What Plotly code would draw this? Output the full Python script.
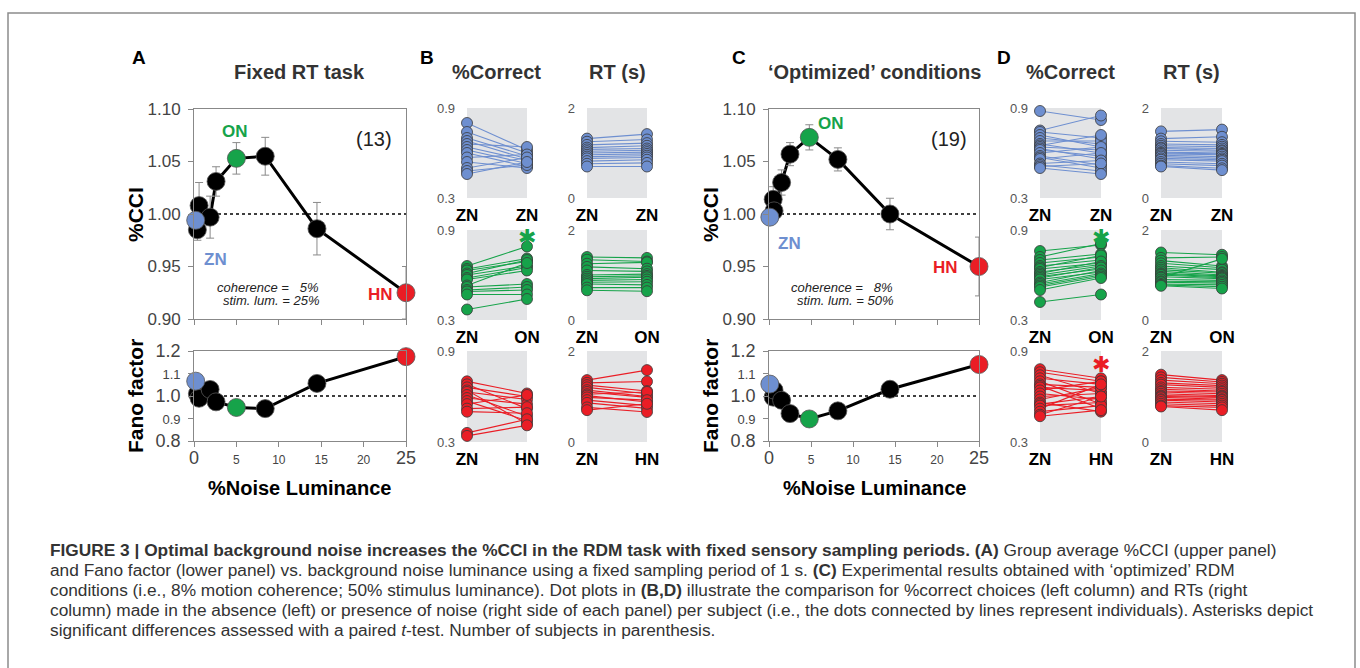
import plotly.graph_objects as go

W, H = 1360, 668
FONT = "Liberation Sans, Arial, Helvetica, sans-serif"
BLUE = "#6e8fd0"
GREEN = "#16a34a"
RED = "#ea1d25"
GRAYBG = "#e3e4e6"
TXT = "#333333"

# ---------------- data ----------------
A_noise = [0.2, 0.4, 0.6, 1.9, 2.6, 5.0, 8.4, 14.5, 25.0]
A_cci = [0.994, 0.985, 1.008, 0.997, 1.031, 1.053, 1.055, 0.986, 0.925]
A_cci_err = [0.0, 0.010, 0.022, 0.020, 0.014, 0.015, 0.018, 0.025, 0.025]
A_fano = [1.066, 1.010, 0.990, 1.029, 0.974, 0.949, 0.944, 1.056, 1.175]

C_noise = [0.1, 0.5, 0.6, 1.5, 2.5, 4.8, 8.2, 14.4, 25.0]
C_cci = [0.997, 1.014, 1.003, 1.030, 1.057, 1.073, 1.052, 1.000, 0.950]
C_cci_err = [0.0, 0.012, 0.008, 0.012, 0.011, 0.012, 0.011, 0.015, 0.028]
C_fano = [1.053, 0.995, 1.026, 0.981, 0.922, 0.898, 0.934, 1.030, 1.140]

cond_idx = {"ZN": 0, "ON": 5, "HN": 8}

x_ticks = [0, 5, 10, 15, 20, 25]
x_ticktext = ["0", "5", "10", "15", "20", "25"]
cci_ticks = [0.90, 0.95, 1.00, 1.05, 1.10]
cci_ticktext = ["0.90", "0.95", "1.00", "1.05", "1.10"]
fano_ticks = [0.8, 0.9, 1.0, 1.1, 1.2]
fano_ticktext = ["0.8", "0.9", "1.0", "1.1", "1.2"]

# per-subject dot plots: (left condition, right condition)
B_corr_ZN_ZN = ([0.80, 0.74, 0.70, 0.68, 0.66, 0.64, 0.62, 0.60, 0.57, 0.54, 0.50, 0.48, 0.46],
                [0.62, 0.60, 0.58, 0.56, 0.64, 0.55, 0.53, 0.51, 0.59, 0.50, 0.57, 0.52, 0.54])
B_rt_ZN_ZN = ([1.32, 1.25, 1.18, 1.12, 1.08, 1.04, 1.00, 0.96, 0.92, 0.88, 0.82, 0.76, 0.70],
              [1.42, 1.30, 1.22, 1.16, 1.10, 1.06, 1.02, 0.98, 0.94, 0.90, 0.85, 0.78, 0.70])
B_corr_ZN_ON = ([0.66, 0.64, 0.63, 0.61, 0.60, 0.58, 0.57, 0.53, 0.52, 0.50, 0.49, 0.47, 0.37],
                [0.79, 0.71, 0.69, 0.70, 0.66, 0.65, 0.63, 0.68, 0.54, 0.52, 0.50, 0.47, 0.44])
B_rt_ZN_ON = ([1.40, 1.34, 1.25, 1.18, 1.10, 1.00, 0.96, 0.92, 0.88, 0.84, 0.80, 0.72, 0.66],
              [1.38, 1.30, 1.28, 1.14, 1.08, 1.02, 0.98, 0.95, 0.90, 0.85, 0.78, 0.72, 0.64])
B_corr_ZN_HN = ([0.70, 0.68, 0.66, 0.64, 0.63, 0.61, 0.59, 0.57, 0.55, 0.52, 0.50, 0.36, 0.34],
                [0.62, 0.52, 0.60, 0.42, 0.58, 0.47, 0.55, 0.44, 0.61, 0.53, 0.49, 0.45, 0.41])
B_rt_ZN_HN = ([1.36, 1.30, 1.25, 1.20, 1.14, 1.10, 1.05, 1.02, 0.98, 0.92, 0.86, 0.76, 0.70],
              [1.58, 1.33, 1.12, 1.06, 1.00, 0.98, 1.10, 0.88, 0.92, 0.80, 0.74, 0.66, 0.84])

D_corr_ZN_ZN = ([0.88, 0.75, 0.74, 0.72, 0.70, 0.68, 0.66, 0.65, 0.64, 0.63, 0.62, 0.60, 0.58, 0.57, 0.56, 0.53, 0.52, 0.51, 0.50],
                [0.82, 0.85, 0.70, 0.64, 0.66, 0.68, 0.60, 0.72, 0.62, 0.56, 0.58, 0.64, 0.52, 0.50, 0.60, 0.55, 0.48, 0.53, 0.46])
D_rt_ZN_ZN = ([1.48, 1.32, 1.26, 1.20, 1.16, 1.12, 1.10, 1.06, 1.02, 1.00, 0.98, 0.95, 0.92, 0.88, 0.85, 0.80, 0.76, 0.72, 0.70],
              [1.52, 1.36, 1.24, 1.18, 1.14, 1.10, 1.06, 1.04, 1.00, 0.98, 0.96, 0.92, 0.88, 0.85, 0.82, 0.76, 0.72, 0.66, 0.62])
D_corr_ZN_ON = ([0.76, 0.72, 0.70, 0.68, 0.66, 0.65, 0.64, 0.62, 0.61, 0.60, 0.59, 0.58, 0.57, 0.55, 0.54, 0.53, 0.52, 0.50, 0.42],
                [0.80, 0.81, 0.74, 0.72, 0.70, 0.73, 0.68, 0.67, 0.69, 0.66, 0.64, 0.65, 0.62, 0.63, 0.61, 0.60, 0.59, 0.58, 0.47])
D_rt_ZN_ON = ([1.50, 1.38, 1.32, 1.26, 1.20, 1.16, 1.12, 1.08, 1.04, 1.02, 1.00, 0.96, 0.94, 0.90, 0.86, 0.84, 0.80, 0.78, 0.76],
              [1.45, 1.40, 1.20, 1.16, 1.12, 1.06, 1.04, 1.00, 0.98, 0.96, 0.94, 0.92, 1.36, 0.88, 0.85, 0.82, 0.78, 0.74, 0.70])
D_corr_ZN_HN = ([0.78, 0.76, 0.74, 0.72, 0.70, 0.68, 0.67, 0.66, 0.64, 0.62, 0.60, 0.58, 0.56, 0.55, 0.54, 0.52, 0.50, 0.48, 0.47],
                [0.72, 0.70, 0.62, 0.68, 0.55, 0.66, 0.52, 0.64, 0.70, 0.58, 0.62, 0.66, 0.50, 0.60, 0.56, 0.68, 0.54, 0.60, 0.51])
D_rt_ZN_HN = ([1.48, 1.42, 1.36, 1.30, 1.26, 1.20, 1.16, 1.12, 1.10, 1.06, 1.02, 1.00, 0.98, 0.94, 0.92, 0.88, 0.84, 0.80, 0.78],
              [1.36, 1.32, 1.28, 1.24, 1.20, 1.16, 1.12, 1.10, 1.06, 1.02, 1.00, 0.98, 0.94, 0.92, 0.88, 0.84, 0.80, 0.76, 0.70])

corr_ticks, corr_ticktext = [0.3, 0.9], ["0.3", "0.9"]
rt_ticks, rt_ticktext = [0, 2], ["0", "2"]

caption_lines = [
    "<b>FIGURE 3 | Optimal background noise increases the %CCI in the RDM task with fixed sensory sampling periods. (A)</b> Group average %CCI (upper panel)",
    "and Fano factor (lower panel) vs. background noise luminance using a fixed sampling period of 1 s. <b>(C)</b> Experimental results obtained with ‘optimized’ RDM",
    "conditions (i.e., 8% motion coherence; 50% stimulus luminance). Dot plots in <b>(B,D)</b> illustrate the comparison for %correct choices (left column) and RTs (right",
    "column) made in the absence (left) or presence of noise (right side of each panel) per subject (i.e., the dots connected by lines represent individuals). Asterisks depict",
    "significant differences assessed with a paired <i>t</i>-test. Number of subjects in parenthesis.",
]


# ---------------- helpers ----------------
def px(x):
    return x / W


def py(y):
    return 1 - y / H


def sid(n):
    return "" if n == 1 else str(n)


fig = go.Figure()
layout = dict(width=W, height=H, margin=dict(l=0, r=0, t=0, b=0, pad=0, autoexpand=False),
              paper_bgcolor="white", plot_bgcolor="white",
              font=dict(family=FONT, color=TXT), showlegend=False)
annotations = []
shapes = []


def mixed(labels, big, small, big_set):
    return [f"<span style='font-size:{big if l in big_set else small}px'>{l}</span>" for l in labels]


def main_axes(n, x0, x1, y0, y1, yr, yt, ytt, show_x, fano=False):
    s = sid(n)
    xa = dict(domain=[px(x0), px(x1)], range=[0, 25], anchor=f"y{s}",
              tickvals=x_ticks, ticks="outside", ticklen=5, tickcolor="#888",
              linecolor="#888", linewidth=1, mirror=True, showgrid=False, zeroline=False,
              showticklabels=show_x, ticklabelstandoff=3, automargin=False,
              tickfont=dict(color="#444", size=12))
    if show_x:
        xa["ticktext"] = mixed(x_ticktext, 18, 12, {"0", "25"})
    ytext = mixed(ytt, 18, 13, {"0.8", "1.0", "1.2"}) if fano else ytt
    ya = dict(domain=[py(y1), py(y0)], range=yr, anchor=f"x{s}",
              tickvals=yt, ticktext=ytext, ticks="outside", ticklen=5, tickcolor="#888",
              linecolor="#888", linewidth=1, mirror=True, showgrid=False, zeroline=False,
              ticklabelstandoff=4, automargin=False, tickfont=dict(color="#444", size=17))
    layout[f"xaxis{s}"] = xa
    layout[f"yaxis{s}"] = ya
    shapes.append(dict(type="line", xref=f"x{s} domain", yref=f"y{s}", x0=0, x1=1, y0=1.0, y1=1.0,
                       line=dict(color="black", width=1.5, dash="dot"), layer="below"))


def main_traces(n, xs, ys, err=None):
    xr, yr = f"x{sid(n)}", f"y{sid(n)}"
    fig.add_trace(go.Scatter(x=xs, y=ys, mode="lines", line=dict(color="black", width=3),
                             xaxis=xr, yaxis=yr, hoverinfo="skip"))
    if err is not None:
        fig.add_trace(go.Scatter(x=xs, y=ys, mode="markers", marker=dict(size=1, opacity=0),
                                 error_y=dict(type="data", array=err, color="#8a8a8a", thickness=1, width=4),
                                 xaxis=xr, yaxis=yr, cliponaxis=False, hoverinfo="skip"))
    special = set(cond_idx.values())
    bx = [x for i, x in enumerate(xs) if i not in special]
    by = [y for i, y in enumerate(ys) if i not in special]
    fig.add_trace(go.Scatter(x=bx, y=by, mode="markers",
                             marker=dict(size=18, color="black", line=dict(color="#555", width=0.8)),
                             xaxis=xr, yaxis=yr, cliponaxis=False, hoverinfo="skip"))
    for name, col in (("ZN", BLUE), ("ON", GREEN), ("HN", RED)):
        i = cond_idx[name]
        fig.add_trace(go.Scatter(x=[xs[i]], y=[ys[i]], mode="markers",
                                 marker=dict(size=18, color=col, line=dict(color="#555", width=0.8)),
                                 xaxis=xr, yaxis=yr, cliponaxis=False, hoverinfo="skip"))


def dot_panel(n, x0, x1, y0, y1, data, yr, yt, ytt, cats, color):
    s = sid(n)
    xr, yr_ = f"x{s}", f"y{s}"
    layout[f"xaxis{s}"] = dict(domain=[px(x0), px(x1)], range=[0, 1], anchor=f"y{s}",
                               tickvals=[0, 1], ticktext=[f"<b>{c}</b>" for c in cats],
                               ticks="", showline=False, showgrid=False, zeroline=False,
                               ticklabelstandoff=5, automargin=False,
                               tickfont=dict(size=17, color="black"))
    layout[f"yaxis{s}"] = dict(domain=[py(y1), py(y0)], range=yr, anchor=f"x{s}",
                               tickvals=yt, ticktext=ytt, ticks="", showline=False,
                               showgrid=False, zeroline=False, ticklabelstandoff=11, automargin=False,
                               tickfont=dict(size=13, color="#555"))
    shapes.append(dict(type="rect", xref=f"x{s} domain", yref=f"y{s} domain", x0=0, x1=1, y0=0, y1=1,
                       fillcolor=GRAYBG, line=dict(width=0), layer="below"))
    left, right = data
    lx, ly = [], []
    for a, b in zip(left, right):
        lx += [0, 1, None]
        ly += [a, b, None]
    fig.add_trace(go.Scatter(x=lx, y=ly, mode="lines", line=dict(color=color, width=1.1),
                             xaxis=xr, yaxis=yr_, cliponaxis=False, hoverinfo="skip"))
    fig.add_trace(go.Scatter(x=[0] * len(left) + [1] * len(right), y=list(left) + list(right),
                             mode="markers",
                             marker=dict(size=11, color=color, line=dict(color="#3a3a3a", width=0.8)),
                             xaxis=xr, yaxis=yr_, cliponaxis=False, hoverinfo="skip"))


def text(x, y, s, size, color=TXT, bold=False, italic=False, xanchor="center", angle=0, family=FONT):
    if bold:
        s = f"<b>{s}</b>"
    if italic:
        s = f"<i>{s}</i>"
    annotations.append(dict(x=px(x), y=py(y), xref="paper", yref="paper", text=s, showarrow=False,
                            xanchor=xanchor, yanchor="middle", textangle=angle,
                            font=dict(size=size, color=color, family=family)))


# ---------------- panels A & C ----------------
main_axes(1, 194, 406, 109, 319, [0.9, 1.1], cci_ticks, cci_ticktext, False)
main_axes(2, 194, 406, 351, 441, [0.8, 1.2], fano_ticks, fano_ticktext, True, fano=True)
main_axes(3, 769, 979, 109, 319, [0.9, 1.1], cci_ticks, cci_ticktext, False)
main_axes(4, 769, 979, 351, 441, [0.8, 1.2], fano_ticks, fano_ticktext, True, fano=True)
main_traces(1, A_noise, A_cci, A_cci_err)
main_traces(2, A_noise, A_fano)
main_traces(3, C_noise, C_cci, C_cci_err)
main_traces(4, C_noise, C_fano)

# ---------------- panels B & D ----------------
rows = [(108, 198), (230, 320), (351, 442)]
B_sets = [(B_corr_ZN_ZN, B_rt_ZN_ZN, ["ZN", "ZN"], BLUE),
          (B_corr_ZN_ON, B_rt_ZN_ON, ["ZN", "ON"], GREEN),
          (B_corr_ZN_HN, B_rt_ZN_HN, ["ZN", "HN"], RED)]
D_sets = [(D_corr_ZN_ZN, D_rt_ZN_ZN, ["ZN", "ZN"], BLUE),
          (D_corr_ZN_ON, D_rt_ZN_ON, ["ZN", "ON"], GREEN),
          (D_corr_ZN_HN, D_rt_ZN_HN, ["ZN", "HN"], RED)]
n = 5
for (cols, sets) in (((467, 527, 587, 647), B_sets), ((1040, 1101, 1161, 1222), D_sets)):
    for (r0, r1), (corr, rt, cats, col) in zip(rows, sets):
        dot_panel(n, cols[0], cols[1], r0, r1, corr, [0.3, 0.9], corr_ticks, corr_ticktext, cats, col)
        n += 1
        dot_panel(n, cols[2], cols[3], r0, r1, rt, [0, 2], rt_ticks, rt_ticktext, cats, col)
        n += 1

# ---------------- texts ----------------
text(139, 58, "A", 19, "black", bold=True)
text(427, 58, "B", 19, "black", bold=True)
text(739, 58, "C", 19, "black", bold=True)
text(1004, 58, "D", 19, "black", bold=True)
text(299, 72, "Fixed RT task", 20, bold=True)
text(874, 72, "‘Optimized’ conditions", 20, bold=True)
text(496, 72, "%Correct", 20, bold=True)
text(617, 72, "RT (s)", 20, bold=True)
text(1070, 72, "%Correct", 20, bold=True)
text(1191, 72, "RT (s)", 20, bold=True)

for xo, num, coh, lum, lab in ((0, "(13)", "5%", "25%", [(235, 131), (215, 259), (380, 295)]),
                               (575, "(19)", "8%", "50%", [(831, 123), (789, 243), (945, 268)])):
    text(135 + xo, 215, "%CCI", 21, "black", bold=True, angle=-90)
    text(135 + xo, 396, "Fano factor", 21, "black", bold=True, angle=-90)
    text(299 + xo, 488, "%Noise Luminance", 20, "black", bold=True)
    text(374 + xo, 139, num, 20, "#222")
    text(321 + xo - (1 if xo else 0), 287, f"coherence =   {coh}", 13, "#222", italic=True, xanchor="right")
    text(321 + xo - (1 if xo else 0), 300, f"stim. lum. = {lum}", 13, "#222", italic=True, xanchor="right")
    for (lx, ly), s, c in zip(lab, ["ON", "ZN", "HN"], [GREEN, BLUE, RED]):
        text(lx, ly, s, 17, c, bold=True)

# significance asterisks (centred heavy asterisk glyph keeps the text box compact)
STAR_FONT = "DejaVu Sans, Liberation Sans, sans-serif"
text(527, 237, "✱", 22, GREEN, family=STAR_FONT)
text(1101, 237, "✱", 22, GREEN, family=STAR_FONT)
text(1101, 364, "✱", 22, RED, family=STAR_FONT)

# caption
for i, line in enumerate(caption_lines):
    annotations.append(dict(x=px(48), y=py(550 + 20 * i), xref="paper", yref="paper", text=line,
                            showarrow=False, xanchor="left", yanchor="middle",
                            font=dict(size=17.3, color=TXT, family=FONT)))

# frame
shapes.append(dict(type="rect", xref="paper", yref="paper", x0=px(8), x1=px(1355), y0=py(700), y1=py(13),
                   line=dict(color="#8c8c8c", width=1.5), fillcolor="rgba(0,0,0,0)", layer="below"))

layout["annotations"] = annotations
layout["shapes"] = shapes
fig.update_layout(**layout)
fig.write_html("out.html", config={"displayModeBar": False},
               post_script="document.body.style.margin='0';document.body.style.padding='0';"
                           "document.body.style.overflow='hidden';")
